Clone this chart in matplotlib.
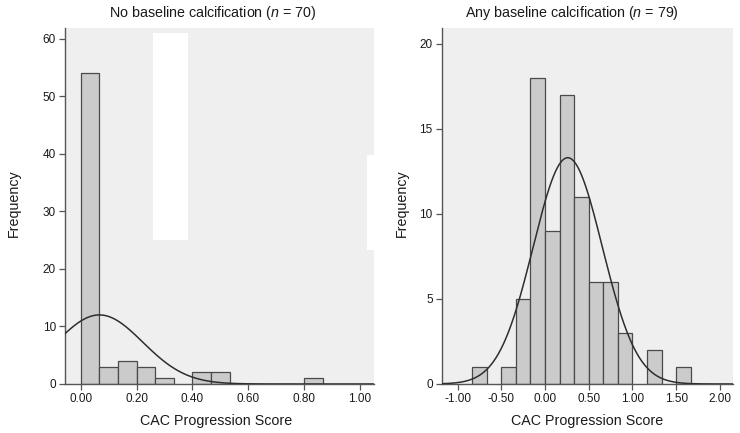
import numpy as np
import matplotlib
matplotlib.use("Agg")
import matplotlib.pyplot as plt
from matplotlib.patches import Rectangle

plt.rcParams['font.family'] = ['Liberation Sans', 'DejaVu Sans']
plt.rcParams['mathtext.fontset'] = 'custom'
plt.rcParams['mathtext.rm'] = 'Liberation Sans'
plt.rcParams['mathtext.it'] = 'Liberation Sans:italic'

# ---- data ----
left_title = "No baseline calcification ($n$ = 70)"
left_bin_start = 0.0
left_bin_width = 1 / 15
left_counts = [54, 3, 4, 3, 1, 0, 2, 2, 0, 0, 0, 0, 1]
left_n = 70
left_mean = 0.067
left_sd = 0.155
left_xticks = [0.0, 0.2, 0.4, 0.6, 0.8, 1.0]
left_yticks = [0, 10, 20, 30, 40, 50, 60]

right_title = "Any baseline calcification ($n$ = 79)"
right_bin_start = -5 / 6
right_bin_width = 1 / 6
right_counts = [1, 0, 1, 5, 18, 9, 17, 11, 6, 6, 3, 0, 2, 0, 1]
right_n = 79
right_mean = 0.26
right_sd = 0.395
right_xticks = [-1.0, -0.5, 0.0, 0.5, 1.0, 1.5, 2.0]
right_yticks = [0, 5, 10, 15, 20]

xlabel = "CAC Progression Score"
ylabel = "Frequency"

W, H = 740, 433
fig = plt.figure(figsize=(W / 100, H / 100), dpi=100)

def px(x0, y0, x1, y1):
    return [x0 / W, 1 - y1 / H, (x1 - x0) / W, (y1 - y0) / H]

BAR_FC = '#cbcbcb'
BAR_EC = '#4a4a4a'
AX_BG = '#efefef'
TXT = '#1a1a1a'

def panel(rect, counts, start, width, n, mean, sd, xlim, ylim, xticks, yticks):
    ax = fig.add_axes(rect)
    ax.set_facecolor(AX_BG)
    counts = np.asarray(counts)
    lefts = start + width * np.arange(len(counts))
    mask = counts > 0
    ax.bar(lefts[mask], counts[mask], width=width, align='edge',
           color=BAR_FC, edgecolor=BAR_EC, linewidth=0.9, zorder=2)
    xs = np.linspace(xlim[0], xlim[1], 600)
    ys = n * width / (sd * np.sqrt(2 * np.pi)) * np.exp(-0.5 * ((xs - mean) / sd) ** 2)
    ax.plot(xs, ys, color='#2e2e2e', linewidth=1.1, zorder=3)
    ax.set_xlim(*xlim)
    ax.set_ylim(*ylim)
    ax.set_xticks(xticks)
    ax.set_xticklabels([f"{t:.2f}" for t in xticks])
    ax.set_yticks(yticks)
    ax.set_yticklabels([str(t) for t in yticks])
    for s in ('top', 'right'):
        ax.spines[s].set_visible(False)
    for s in ('left', 'bottom'):
        ax.spines[s].set_color('#555555')
        ax.spines[s].set_linewidth(1.0)
    ax.tick_params(axis='both', direction='out', length=4, width=0.9,
                   color='#555555', labelsize=8.5, labelcolor=TXT, pad=2.5)
    return ax

ax1 = panel(px(65, 28, 374, 384), left_counts, left_bin_start, left_bin_width,
            left_n, left_mean, left_sd, (-0.0562, 1.05), (0, 61.9),
            left_xticks, left_yticks)
ax2 = panel(px(441.7, 28, 733, 384), right_counts, right_bin_start, right_bin_width,
            right_n, right_mean, right_sd, (-1.1806, 2.149), (0, 20.92),
            right_xticks, right_yticks)

fs = 10.3
fig.text(212.5 / W, 1 - 13 / H, left_title, ha='center', va='center', fontsize=fs, color=TXT)
fig.text(571.8 / W, 1 - 13 / H, right_title, ha='center', va='center', fontsize=fs, color=TXT)
fig.text(216.3 / W, 1 - 421.5 / H, xlabel, ha='center', va='center', fontsize=fs, color=TXT)
fig.text(587.3 / W, 1 - 421.5 / H, xlabel, ha='center', va='center', fontsize=fs, color=TXT)
fig.text(14.3 / W, 1 - 203 / H, ylabel, ha='center', va='center', rotation=90, fontsize=fs, color=TXT)
fig.text(401.7 / W, 1 - 203 / H, ylabel, ha='center', va='center', rotation=90, fontsize=fs, color=TXT)

# white blank areas present in the reference image
for (x0, y0, x1, y1) in [(153.3, 33.3, 188.3, 240), (366.7, 155, 375, 250)]:
    fig.add_artist(Rectangle((x0 / W, 1 - y1 / H), (x1 - x0) / W, (y1 - y0) / H,
                             transform=fig.transFigure, facecolor='white',
                             edgecolor='none', zorder=10))

fig.savefig("out.png", dpi=100, facecolor='white')
